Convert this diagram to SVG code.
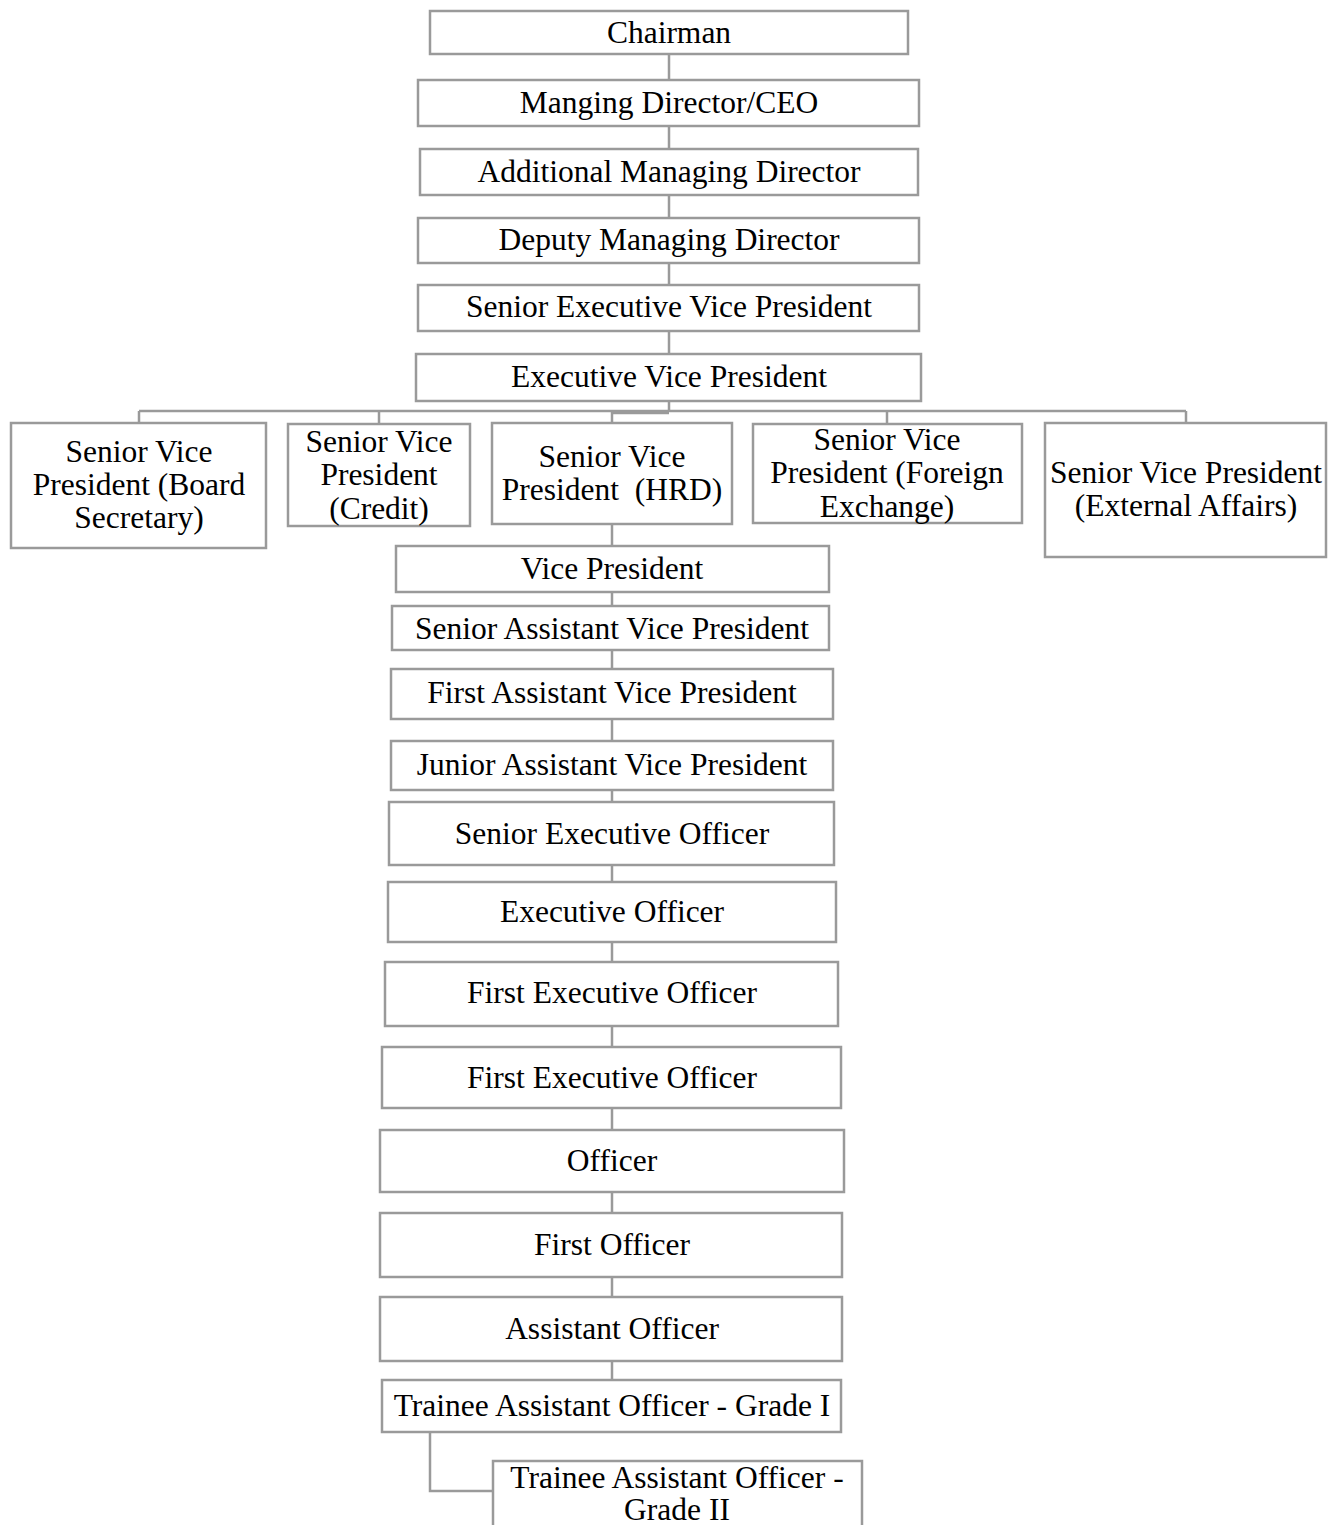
<svg xmlns="http://www.w3.org/2000/svg" width="1343" height="1525" viewBox="0 0 1343 1525">
  <style>
    .box { fill: #ffffff; stroke: #9a9a9a; stroke-width: 2.5; }
    .link { fill: none; stroke: #9a9a9a; stroke-width: 2.5; }
    text { font-family: "Liberation Serif", "Times New Roman", serif; font-size: 31.5px; fill: #000000; text-anchor: middle; }
  </style>
  <rect width="1343" height="1525" fill="#ffffff"/>

  <!-- reporting lines -->
  <g id="connectors" class="link">
    <path d="M669 54V80M669 126V149M669 195V218M669 263V285M669 331V354"/>
    <path d="M669 401V411M139 411H1186M612 413H669"/>
    <path d="M139 411V423M379 411V424M612 411V423M887 411V424M1186 411V423"/>
    <path d="M612 524V546M612 592V606M612 650V669M612 719V741M612 790V802M612 865V882M612 942V962M612 1026V1047M612 1108V1130M612 1192V1213M612 1277V1297M612 1361V1380"/>
    <path d="M430 1432V1491H493"/>
  </g>

  <!-- top management -->
  <g id="chairman"><rect class="box" x="430" y="11" width="478" height="43"/><text x="669" y="43">Chairman</text></g>
  <g id="md-ceo"><rect class="box" x="418" y="80" width="501" height="46"/><text x="669" y="113">Manging Director/CEO</text></g>
  <g id="amd"><rect class="box" x="420" y="149" width="498" height="46"/><text x="669" y="182">Additional Managing Director</text></g>
  <g id="dmd"><rect class="box" x="418" y="218" width="501" height="45"/><text x="669" y="250">Deputy Managing Director</text></g>
  <g id="sevp"><rect class="box" x="418" y="285" width="501" height="46"/><text x="669" y="317">Senior Executive Vice President</text></g>
  <g id="evp"><rect class="box" x="416" y="354" width="505" height="47"/><text x="669" y="387">Executive Vice President</text></g>

  <!-- senior vice presidents -->
  <g id="svp-board"><rect class="box" x="11" y="423" width="255" height="125"/>
    <text x="139" y="462">Senior Vice</text><text x="139" y="495">President (Board</text><text x="139" y="528">Secretary)</text></g>
  <g id="svp-credit"><rect class="box" x="288" y="424" width="182" height="102"/>
    <text x="379" y="452">Senior Vice</text><text x="379" y="485">President</text><text x="379" y="519">(Credit)</text></g>
  <g id="svp-hrd"><rect class="box" x="492" y="423" width="240" height="101"/>
    <text x="612" y="467">Senior Vice</text><text x="612" y="500" xml:space="preserve">President  (HRD)</text></g>
  <g id="svp-fx"><rect class="box" x="753" y="424" width="269" height="99"/>
    <text x="887" y="450">Senior Vice</text><text x="887" y="483">President (Foreign</text><text x="887" y="517">Exchange)</text></g>
  <g id="svp-ext"><rect class="box" x="1045" y="423" width="281" height="134"/>
    <text x="1186" y="483">Senior Vice President</text><text x="1186" y="516">(External Affairs)</text></g>

  <!-- HRD grade ladder -->
  <g id="vp"><rect class="box" x="396" y="546" width="433" height="46"/><text x="612" y="579">Vice President</text></g>
  <g id="savp"><rect class="box" x="392" y="606" width="437" height="44"/><text x="612" y="639">Senior Assistant Vice President</text></g>
  <g id="favp"><rect class="box" x="391" y="669" width="442" height="50"/><text x="612" y="703">First Assistant Vice President</text></g>
  <g id="javp"><rect class="box" x="391" y="741" width="442" height="49"/><text x="612" y="775">Junior Assistant Vice President</text></g>
  <g id="seo"><rect class="box" x="389" y="802" width="445" height="63"/><text x="612" y="844">Senior Executive Officer</text></g>
  <g id="eo"><rect class="box" x="388" y="882" width="448" height="60"/><text x="612" y="922">Executive Officer</text></g>
  <g id="feo-1"><rect class="box" x="385" y="962" width="453" height="64"/><text x="612" y="1003">First Executive Officer</text></g>
  <g id="feo-2"><rect class="box" x="382" y="1047" width="459" height="61"/><text x="612" y="1088">First Executive Officer</text></g>
  <g id="officer"><rect class="box" x="380" y="1130" width="464" height="62"/><text x="612" y="1171">Officer</text></g>
  <g id="first-officer"><rect class="box" x="380" y="1213" width="462" height="64"/><text x="612" y="1255">First Officer</text></g>
  <g id="assistant-officer"><rect class="box" x="380" y="1297" width="462" height="64"/><text x="612" y="1339">Assistant Officer</text></g>
  <g id="tao-1"><rect class="box" x="382" y="1380" width="459" height="52"/><text x="612" y="1416">Trainee Assistant Officer - Grade I</text></g>
  <g id="tao-2"><rect class="box" x="493" y="1461" width="369" height="80"/>
    <text x="677" y="1488">Trainee Assistant Officer -</text><text x="677" y="1520">Grade II</text></g>
</svg>
